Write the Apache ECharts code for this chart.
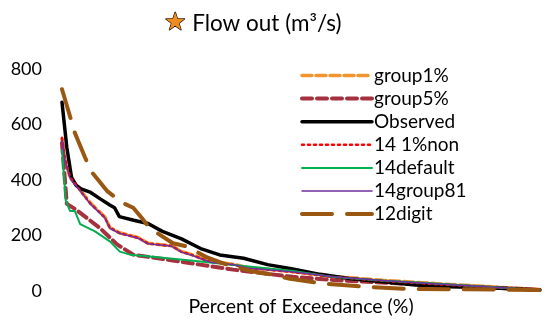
<!DOCTYPE html>
<html>
<head>
<meta charset="utf-8">
<script src="https://cdn.jsdelivr.net/npm/echarts@6/dist/echarts.min.js"></script>
<style>html,body{margin:0;padding:0;background:#fff;}#c{width:558px;height:320px;}</style>
</head>
<body>
<div id="c"></div>
<script>
var titleText = 'Flow out (m³/s)';
var xAxisName = 'Percent of Exceedance (%)';
var yTicks = [0, 200, 400, 600, 800];
var seriesNames = ['group1%', 'group5%', 'Observed', '14 1%non', '14default', '14group81', '12digit'];

var group1Pct = [0, 0.6, 1.7, 3.8, 5.9, 9, 10, 12, 16, 18, 23, 25, 27, 31, 36, 39, 43, 48, 57, 67, 78, 88, 100];
var group1Val = [548, 475, 408, 364, 318, 266, 229, 210, 192, 172, 163, 142, 132, 106, 96, 83, 78, 70, 52, 39, 27, 17, 5];

var group5Pct = [0, 1, 2.7, 5.2, 8, 11.5, 14.9, 21.9, 28.9, 35.8, 42.9, 48.3, 56.7, 63.8, 72, 80, 90, 100];
var group5Val = [533, 314, 296, 263, 226, 168, 131, 113, 95, 77, 62, 51, 40, 33, 26, 20, 12, 4];

var observedPct = [0, 1, 2, 3, 4, 6, 8, 10, 11, 12, 15, 18, 21, 25, 29, 33, 38, 43, 48, 54, 60, 67, 74, 81, 88, 94, 100];
var observedVal = [680, 518, 409, 380, 368, 355, 332, 310, 300, 268, 255, 243, 215, 188, 153, 130, 118, 95, 80, 60, 45, 33, 22, 15, 13, 8, 4];

var non1Pct = [0, 0.6, 1.7, 3.8, 5.9, 9, 10, 12, 16, 18, 23, 25, 27, 31, 36, 39, 43, 48, 57, 67, 78, 88, 100];
var non1Val = [552, 478, 410, 362, 316, 264, 228, 209, 191, 171, 162, 141, 131, 105, 94, 82, 77, 69, 50, 37, 25, 15, 4];

var defaultPct = [0, 0.8, 1.7, 2.7, 3.8, 6.9, 10, 12.1, 14.2, 18.4, 29, 38, 48, 57, 67, 78, 88, 100];
var defaultVal = [508, 325, 288, 288, 241, 215, 179, 142, 131, 124, 106, 90, 73, 50, 38, 27, 16, 4];

var group81Pct = [0, 0.6, 1.7, 3.8, 5.9, 9, 10, 12, 16, 18, 23, 25, 27, 31, 36, 39, 43, 48, 57, 67, 78, 88, 100];
var group81Val = [544, 471, 405, 361, 314, 263, 226, 208, 190, 170, 161, 140, 130, 104, 95, 82, 77, 69, 51, 38, 26, 16, 4];

var digitPct = [0, 1.7, 2.7, 4.8, 6.3, 9.4, 12.6, 14.9, 16.7, 18.4, 23.2, 26, 30.5, 34.5, 40, 43, 47.7, 55, 64, 73, 85, 100];
var digitVal = [727, 628, 569, 482, 427, 361, 318, 300, 263, 226, 172, 161, 120, 95, 70, 62, 44, 26, 15, 7, 6, 4];

function pairs(xs, ys) { return xs.map(function (x, i) { return [x, ys[i]]; }); }

var FONT = 'Lato';
var styles = [
  { color: '#F29430', width: 3.5, type: [10, 4] },
  { color: '#A5313F', width: 4, type: [10, 5] },
  { color: '#000000', width: 3.5, type: 'solid' },
  { color: '#FF0000', width: 2.5, type: [2, 4] },
  { color: '#00B050', width: 2, type: 'solid' },
  { color: '#7030A0', width: 1.5, type: 'solid' },
  { color: '#9A5712', width: 4, type: [30, 15] }
];
var dataSets = [
  pairs(group1Pct, group1Val),
  pairs(group5Pct, group5Val),
  pairs(observedPct, observedVal),
  pairs(non1Pct, non1Val),
  pairs(defaultPct, defaultVal),
  pairs(group81Pct, group81Val),
  pairs(digitPct, digitVal)
];

var chart = echarts.init(document.getElementById('c'), null, { renderer: 'canvas' });
chart.setOption({
  animation: false,
  backgroundColor: '#ffffff',
  title: {
    text: '{star|★} ' + titleText,
    left: 159,
    top: 6,
    textStyle: {
      fontFamily: FONT, fontSize: 22.5, fontWeight: 'normal', color: '#000',
      rich: {
        star: { fontFamily: 'DejaVu Sans', fontSize: 25, color: '#EE8A1E', textBorderColor: '#000', textBorderWidth: 1.2 }
      }
    }
  },
  legend: {
    orient: 'vertical',
    left: 295,
    top: 61,
    itemWidth: 70,
    itemHeight: 14,
    itemGap: 4.1,
    itemStyle: { opacity: 0, borderWidth: 0 },
    data: seriesNames.map(function (n, i) {
      return { name: n, lineStyle: { width: styles[i].width, type: styles[i].type, color: styles[i].color, cap: 'round' } };
    }),
    textStyle: { fontFamily: FONT, fontSize: 19, color: '#000', padding: [0, 0, 0, -3] }
  },
  grid: { left: 62, right: 18, top: 69, bottom: 29, containLabel: false, outerBoundsMode: 'none' },
  xAxis: {
    type: 'value', min: 0, max: 100,
    name: xAxisName, nameLocation: 'middle', nameGap: 6,
    nameTextStyle: { fontFamily: FONT, fontSize: 19.5, color: '#000' },
    axisLine: { show: false }, axisTick: { show: false }, axisLabel: { show: false }, splitLine: { show: false }
  },
  yAxis: {
    type: 'value', min: yTicks[0], max: yTicks[yTicks.length - 1], interval: 200,
    axisLine: { show: false }, axisTick: { show: false }, splitLine: { show: false },
    axisLabel: { fontFamily: FONT, fontSize: 18, color: '#000', margin: 20 }
  },
  series: seriesNames.map(function (n, i) {
    return {
      name: n, type: 'line', data: dataSets[i], symbol: 'none', showSymbol: false,
      lineStyle: { color: styles[i].color, width: styles[i].width, type: styles[i].type, cap: 'round' },
      itemStyle: { color: styles[i].color }
    };
  })
});
</script>
</body>
</html>
